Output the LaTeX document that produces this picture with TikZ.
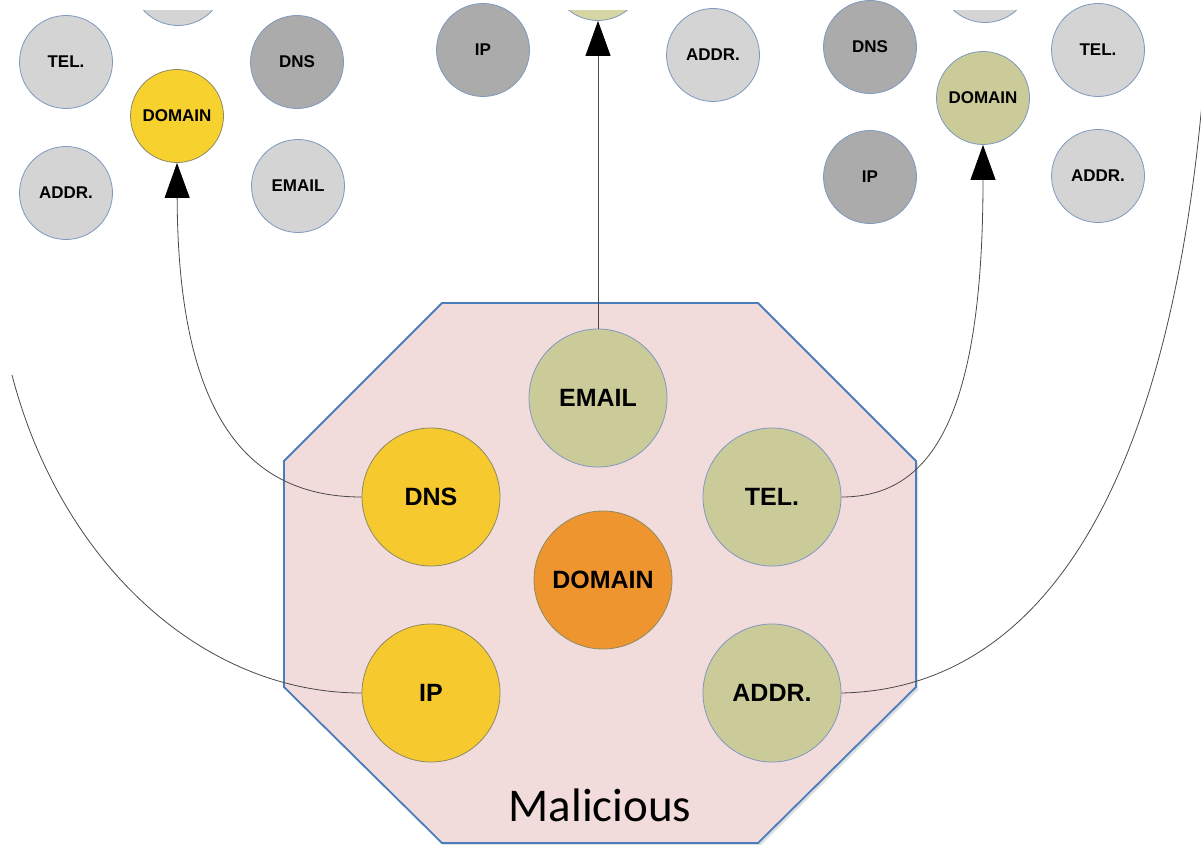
\documentclass[tikz,border=0pt]{standalone}
\usepackage{fontspec}
\setmainfont{Liberation Sans}
\newfontfamily\calibfont{Carlito}
\usetikzlibrary{arrows.meta,shadows}
\definecolor{lgray}{HTML}{D4D4D4}
\definecolor{dgray}{HTML}{ABABAB}
\definecolor{khaki}{HTML}{CBCB9A}
\definecolor{khakilt}{HTML}{D6D6A4}
\definecolor{yel}{HTML}{F6C92F}
\definecolor{yelsm}{HTML}{F7D22E}
\definecolor{orng}{HTML}{EF9530}
\definecolor{octfill}{HTML}{F2DCDB}
\definecolor{octline}{HTML}{4A7EBB}
\definecolor{cborder}{HTML}{7E98BE}
\definecolor{wborder}{HTML}{8C8A62}
\definecolor{conn}{HTML}{4A4A4A}
\tikzset{
  bigc/.style={circle, minimum size=138pt, inner sep=0pt, line width=0.8pt, draw=#1,
    font=\fontsize{25}{30}\selectfont\bfseries},
  smallc/.style={circle, minimum size=93pt, inner sep=0pt, line width=0.8pt, draw=#1,
    font=\fontsize{17}{20}\selectfont\bfseries},
  conline/.style={draw=conn, line width=0.8pt},
  bigarrow/.style={-{Triangle[width=25pt,length=35pt,black]}},
  octagonstyle/.style={fill=octfill, draw=octline, line width=1.8pt, line join=miter,
    drop shadow={opacity=0.25, shadow xshift=2pt, shadow yshift=-3pt}}
}
\begin{document}
\begin{tikzpicture}[x=1pt,y=-1pt]
\useasboundingbox (0,0) rectangle (1201,845);

% partially visible circles at the top edge
\begin{scope}
  \clip (0,11) rectangle (1201,845);
  \node[smallc=cborder, fill=lgray] (tlc) at (178,-21) {};
  \node[smallc=cborder, fill=khakilt] (tmc) at (598,-26) {};
  \node[smallc=cborder, fill=lgray] (trc) at (985,-24) {};
\end{scope}

% top-left cluster
\node[smallc=cborder, fill=lgray] (tltel) at (66,62) {TEL.};
\node[smallc=cborder, fill=dgray] (tldns) at (297,62) {DNS};
\node[smallc=wborder, fill=yelsm] (tldom) at (177,116) {DOMAIN};
\node[smallc=cborder, fill=lgray] (tladdr) at (66,193) {ADDR.};
\node[smallc=cborder, fill=lgray] (tlemail) at (298,186) {EMAIL};

% top-middle cluster
\node[smallc=cborder, fill=dgray] (tmip) at (483,50) {IP};
\node[smallc=cborder, fill=lgray] (tmaddr) at (713,55) {ADDR.};

% top-right cluster
\node[smallc=cborder, fill=dgray] (trdns) at (870,47) {DNS};
\node[smallc=cborder, fill=lgray] (trtel) at (1098,50) {TEL.};
\node[smallc=cborder, fill=khaki] (trdom) at (983,98) {DOMAIN};
\node[smallc=cborder, fill=dgray] (trip) at (870,177) {IP};
\node[smallc=cborder, fill=lgray] (traddr) at (1098,176) {ADDR.};

% octagon
\path[octagonstyle] (442,303) -- (758,303) -- (916,461) -- (916,687) -- (758,843)
  -- (442,843) -- (284,687) -- (284,461) -- cycle;

% free ends of the open connectors
\coordinate (lend) at (12,375);
\coordinate (rend) at (1204,80);

% main circles
\node[bigc=cborder, fill=khaki] (email) at (598,398) {EMAIL};
\node[bigc=wborder, fill=yel] (dns) at (431,497) {DNS};
\node[bigc=cborder, fill=khaki] (tel) at (772,497) {TEL.};
\node[bigc=wborder, fill=orng] (dom) at (603,580) {DOMAIN};
\node[bigc=wborder, fill=yel] (ip) at (431,693) {IP};
\node[bigc=cborder, fill=khaki] (addr) at (772,693) {ADDR.};

% connectors
\draw[conline, bigarrow] (email.north) -- (tmc.south);
\draw[conline, bigarrow] (dns.west) .. controls (250,497) and (178,420) .. (tldom.south);
\draw[conline, bigarrow] (tel.east) .. controls (930,497) and (983,420) .. (trdom.south);
\draw[conline] (ip.west) .. controls (200,693) and (60,560) .. (lend);
\draw[conline] (addr.east) .. controls (1000,690) and (1165,560) .. (rend);

\node[font=\calibfont\fontsize{47}{56}\selectfont] (mal) at (600,805) {Malicious};
\end{tikzpicture}
\end{document}
